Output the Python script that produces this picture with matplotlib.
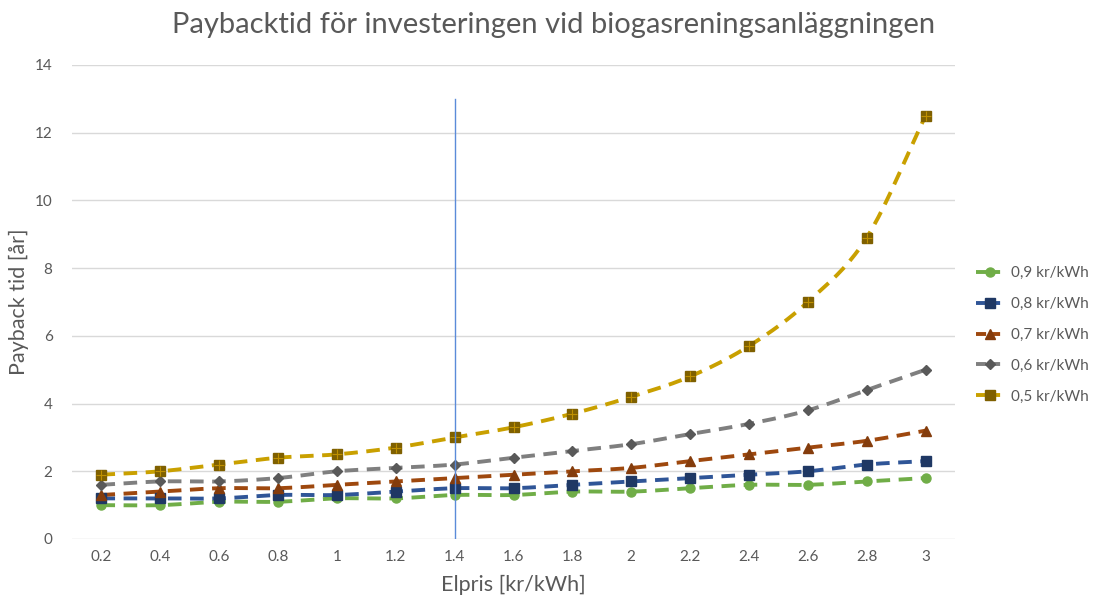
import matplotlib
matplotlib.use("Agg")
import matplotlib.pyplot as plt
import numpy as np

plt.rcParams['font.family'] = ['Lato', 'DejaVu Sans']

elpris = [0.2, 0.4, 0.6, 0.8, 1, 1.2, 1.4, 1.6, 1.8, 2, 2.2, 2.4, 2.6, 2.8, 3]
tick_labels = ['0.2', '0.4', '0.6', '0.8', '1', '1.2', '1.4', '1.6', '1.8', '2', '2.2', '2.4', '2.6', '2.8', '3']
s09 = [1.0, 1.0, 1.1, 1.1, 1.2, 1.2, 1.3, 1.3, 1.4, 1.4, 1.5, 1.6, 1.6, 1.7, 1.8]
s08 = [1.2, 1.2, 1.2, 1.3, 1.3, 1.4, 1.5, 1.5, 1.6, 1.7, 1.8, 1.9, 2.0, 2.2, 2.3]
s07 = [1.3, 1.4, 1.5, 1.5, 1.6, 1.7, 1.8, 1.9, 2.0, 2.1, 2.3, 2.5, 2.7, 2.9, 3.2]
s06 = [1.6, 1.7, 1.7, 1.8, 2.0, 2.1, 2.2, 2.4, 2.6, 2.8, 3.1, 3.4, 3.8, 4.4, 5.0]
s05 = [1.9, 2.0, 2.2, 2.4, 2.5, 2.7, 3.0, 3.3, 3.7, 4.2, 4.8, 5.7, 7.0, 8.9, 12.5]
series_names = ['0,9 kr/kWh', '0,8 kr/kWh', '0,7 kr/kWh', '0,6 kr/kWh', '0,5 kr/kWh']
marker_line_x = 1.4
marker_line_top = 13

fig = plt.figure(figsize=(11.05, 6.05), dpi=100)
ax = fig.add_axes([72/1105, 1 - 539/605, (955-72)/1105, (539-65)/605])

x = np.arange(len(elpris))

def smooth(xs, ys, n=20):
    # Catmull-Rom rendering of line through data points (Excel-like smoothed line)
    xs = np.asarray(xs, float); ys = np.asarray(ys, float)
    px = np.concatenate([[2*xs[0]-xs[1]], xs, [2*xs[-1]-xs[-2]]])
    py = np.concatenate([[2*ys[0]-ys[1]], ys, [2*ys[-1]-ys[-2]]])
    ox, oy = [], []
    for i in range(1, len(px)-2):
        t = np.linspace(0, 1, n, endpoint=False)
        for arr, out in ((px, ox), (py, oy)):
            p0, p1, p2, p3 = arr[i-1], arr[i], arr[i+1], arr[i+2]
            out.extend(0.5*((2*p1) + (-p0+p2)*t + (2*p0-5*p1+4*p2-p3)*t**2 + (-p0+3*p1-3*p2+p3)*t**3))
    ox.append(xs[-1]); oy.append(ys[-1])
    return np.array(ox), np.array(oy)

styles = [
    (s09, '#70AD47', '#70AD47', 'o', 6.5),
    (s08, '#2F5597', '#1F3864', 's', 6.5),
    (s07, '#9E480E', '#843C0C', '^', 7.5),
    (s06, '#7F7F7F', '#595959', 'D', 5),
    (s05, '#C9A000', '#7F6000', 's', 7),
]

for v in range(0, 15, 2):
    ax.axhline(v, color='#D9D9D9', lw=1, zorder=1)

handles = []
for (ys, lc, mc, m, ms), name in zip(styles, series_names):
    sx, sy = smooth(x, ys)
    ax.plot(sx, sy, color=lc, lw=2.8, ls=(0, (3.5, 2.2)), zorder=3)
    ax.plot(x, ys, ls='none', marker=m, color=mc, ms=ms, mec=mc, zorder=4)
    if name.startswith('0,5'):
        ax.plot(x, ys, ls='none', marker='+', color='#BF9000', ms=ms, mew=0.8, zorder=5)
    h, = ax.plot([], [], color=lc, lw=2.8, ls=(0, (2.6, 1.0)), marker=m, ms=ms, mfc=mc, mec=mc)
    handles.append(h)

xi = elpris.index(marker_line_x)
ax.plot([x[xi], x[xi]], [-0.05, marker_line_top], color='#5B8BD9', lw=1.0, zorder=6)

ax.set_xlim(-0.5, len(elpris) - 0.5)
ax.set_ylim(0, 14)
ax.set_yticks(range(0, 15, 2))
ax.set_xticks(x)
ax.set_xticklabels(tick_labels)
for sp in ax.spines.values():
    sp.set_visible(False)
ax.tick_params(length=0, labelsize=11, labelcolor='#595959', pad=8)
ax.tick_params(axis='y', pad=14)

ax.set_xlabel('Elpris [kr/kWh]', fontsize=15.5, color='#595959', labelpad=8)
ax.set_ylabel('Payback tid [år]', fontsize=15.5, color='#595959', labelpad=4)
fig.text(554/1105, 1 - 25/605, 'Paybacktid för investeringen vid biogasreningsanläggningen',
         fontsize=21, color='#595959', ha='center', va='center')

leg = fig.legend(handles=handles, labels=series_names, loc='center left',
                 bbox_to_anchor=(976/1105, 1 - 335/605), frameon=False, borderpad=0,
                 borderaxespad=0, fontsize=11, labelcolor='#595959', handlelength=1.8,
                 labelspacing=1.1, handletextpad=0.5)

fig.savefig('out.png', dpi=100)
